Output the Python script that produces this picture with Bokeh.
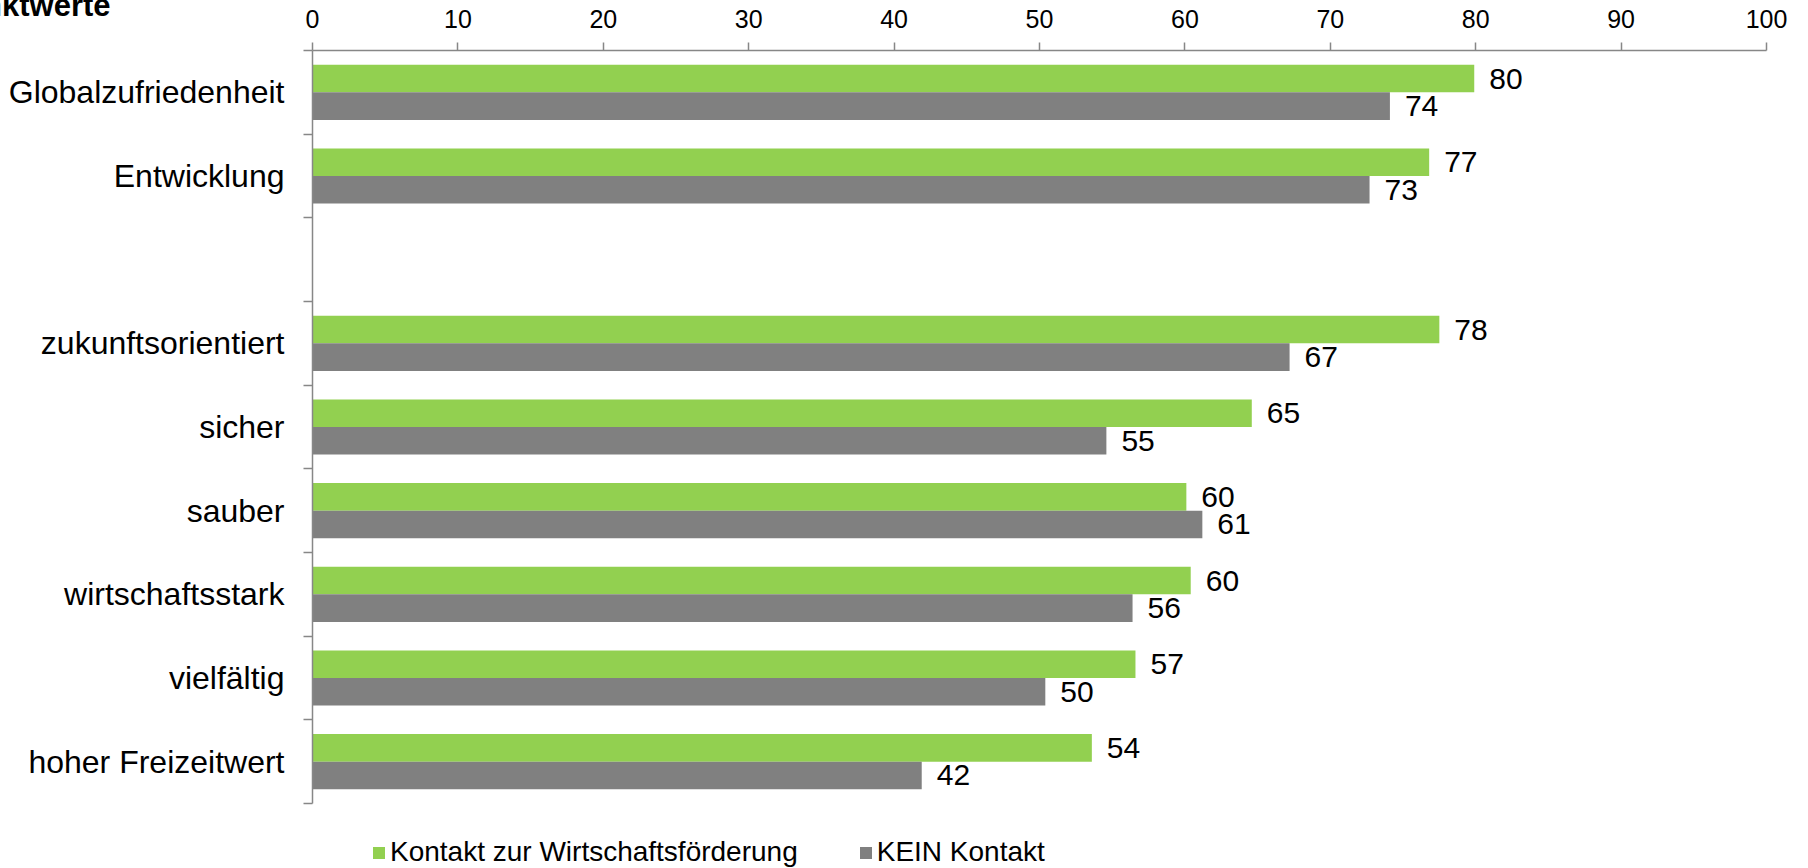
from bokeh.plotting import figure
from bokeh.layouts import column
from bokeh.models import Range1d, FixedTicker, Legend, LegendItem, ColumnDataSource
from bokeh.embed import file_html
from bokeh.resources import INLINE
from bokeh.core.properties import value

# ---------------- data ----------------
title_text = "Punktwerte"
categories = ["Globalzufriedenheit", "Entwicklung", "", "zukunftsorientiert", "sicher",
              "sauber", "wirtschaftsstark", "vielfältig", "hoher Freizeitwert"]
kontakt = [79.9, 76.8, None, 77.5, 64.6, 60.1, 60.4, 56.6, 53.6]
kein_kontakt = [74.1, 72.7, None, 67.2, 54.6, 61.2, 56.4, 50.4, 41.9]
series_names = ["Kontakt zur Wirtschaftsförderung", "KEIN Kontakt"]
series_colors = ["#92D050", "#808080"]
x_ticks = [0, 10, 20, 30, 40, 50, 60, 70, 80, 90, 100]

FONT = "Liberation Sans"
AXIS_COLOR = "#878787"
W = 1792

n = len(categories)
centers = [n - 0.5 - i for i in range(n)]
BAR_H = 0.33
OFF = 0.165


def make_source(vals, sign):
    idx = [i for i in range(n) if vals[i] is not None]
    return ColumnDataSource(dict(
        y=[centers[i] + sign * OFF for i in idx],
        right=[vals[i] for i in idx],
        label=[f"{vals[i]:.0f}" for i in idx],
    ))


sources = [make_source(kontakt, +1), make_source(kein_kontakt, -1)]

p = figure(width=W, height=812,
           x_range=Range1d(0, 100), y_range=Range1d(0, n),
           x_axis_location="above",
           output_backend="svg", toolbar_location=None,
           min_border_left=312, min_border_right=26,
           min_border_top=50, min_border_bottom=9,
           outline_line_color=None, background_fill_color="white",
           border_fill_color="white")
p.grid.visible = False

# cut-off chart title in the top-left corner
p.title.text = title_text
p.title.align = "left"
p.title.vertical_align = "top"
p.title.offset = -369
p.title.standoff = -38
p.title.text_font = FONT
p.title.text_font_size = "31px"
p.title.text_font_style = "bold"
p.title.text_color = "black"

for src, col in zip(sources, series_colors):
    p.hbar(y="y", left=0, right="right", height=BAR_H, source=src,
           fill_color=col, line_color=None)
    p.text(x="right", y="y", text="label", source=src, x_offset=15,
           text_baseline="middle", text_align="left",
           text_font=value(FONT), text_font_size="30px", text_color="black")

# x axis (top)
xa = p.xaxis[0]
xa.ticker = FixedTicker(ticks=x_ticks)
xa.major_tick_out = 8
xa.major_tick_in = 0
xa.minor_tick_out = 0
xa.minor_tick_in = 0
xa.axis_line_color = AXIS_COLOR
xa.axis_line_width = 1.5
xa.major_tick_line_color = AXIS_COLOR
xa.major_tick_line_width = 1.5
xa.major_label_text_font = FONT
xa.major_label_text_font_size = "25px"
xa.major_label_text_color = "black"
xa.major_label_standoff = 15

# y axis (categories, ticks on slot boundaries)
ya = p.yaxis[0]
ya.ticker = FixedTicker(ticks=centers, minor_ticks=list(range(n + 1)))
ya.major_label_overrides = {c: name for c, name in zip(centers, categories)}
ya.major_tick_out = 0
ya.major_tick_in = 0
ya.minor_tick_out = 9
ya.minor_tick_in = 0
ya.axis_line_color = AXIS_COLOR
ya.axis_line_width = 1.5
ya.minor_tick_line_color = AXIS_COLOR
ya.minor_tick_line_width = 1.5
ya.major_label_text_font = FONT
ya.major_label_text_font_size = "32px"
ya.major_label_text_color = "black"
ya.major_label_standoff = 19

# ---------------- legend strip ----------------
leg = figure(width=W, height=56, x_range=Range1d(0, 100), y_range=Range1d(-2, -1),
             output_backend="svg", toolbar_location=None,
             min_border_left=0, min_border_right=0, min_border_top=0, min_border_bottom=0,
             outline_line_color=None, background_fill_color="white",
             border_fill_color="white")
leg.axis.visible = False
leg.grid.visible = False
items = []
for name, src, col in zip(series_names, sources, series_colors):
    r = leg.hbar(y="y", left=0, right="right", height=BAR_H, source=src,
                 fill_color=col, line_color=None, visible=False)
    items.append(LegendItem(label=name, renderers=[r]))

legend = Legend(items=items, orientation="horizontal", location=(59, 0),
                label_text_font=FONT, label_text_font_size="28px",
                label_text_color="black",
                glyph_width=15, glyph_height=15, label_standoff=4,
                spacing=60, padding=0, margin=0,
                inactive_fill_alpha=0,
                border_line_color=None, background_fill_alpha=0)
leg.add_layout(legend, "center")

layout = column(p, leg, spacing=0)
open("out.html", "w").write(file_html(layout, INLINE))
